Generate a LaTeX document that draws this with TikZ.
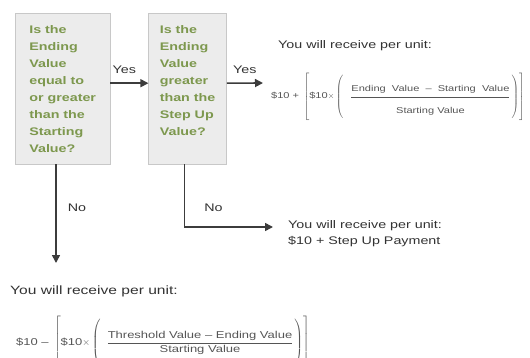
\documentclass[tikz,border=0pt]{standalone}
\usepackage{fontspec}
\usepackage{amsmath}
\setmainfont{Liberation Sans}[FakeStretch=1.3]
\usetikzlibrary{arrows.meta,positioning}

\definecolor{qgreen}{RGB}{125,152,78}
\definecolor{qfill}{RGB}{236,236,236}
\definecolor{qline}{RGB}{200,200,200}
\definecolor{wire}{RGB}{60,60,60}
\definecolor{txtgray}{RGB}{50,50,50}
\definecolor{mathgray}{RGB}{85,85,85}

\begin{document}
\begin{tikzpicture}[
        x=1pt, y=1pt,
        question/.style={draw=qline, fill=qfill, text=qgreen, align=left, inner xsep=0pt,
            font=\fontsize{11}{17}\selectfont\bfseries, minimum height=151pt,
            execute at begin node={\rule{0pt}{16pt}}},
        conn/.style={draw=wire, line width=1.6pt, -{Triangle[length=8pt, width=8pt]}},
        lbl/.style={inner sep=0pt, text=txtgray, font=\fontsize{11}{13}\selectfont},
        restext/.style={inner sep=0pt, text=txtgray, align=left, font=\fontsize{11}{16}\selectfont},
        formula/.style={inner sep=0pt, text=mathgray}
    ]
    \useasboundingbox (0,0) rectangle (530,-358);
    \clip (0,0) rectangle (530,-358);

    % Nodes
    \node (q1)[question, minimum width=95pt, anchor=north west] at (15,-13)
        {Is the\\ Ending\\ Value\\ equal to\\ or greater\\ than the\\ Starting\\ Value?};

    \node (q2)[question, minimum width=78pt, right=38pt of q1]
        {Is the\\ Ending\\ Value\\ greater\\ than the\\ Step Up\\ Value?\\ \mbox{}};

    \node (r1)[restext, anchor=base west] at (278,-48.5) {You will receive per unit:};
    \node (f1)[formula, anchor=west, font=\fontsize{8.5}{10}\selectfont] at (271,-98)
        {$\text{\$10 + }\left[\rule[-24pt]{0pt}{49pt}\text{\$10}{\times}\left(\rule[-21pt]{0pt}{43pt}\hspace{7pt}
        \dfrac{\text{Ending\ \ Value\ \ --\ \ Starting\ \ Value}\rule[-4pt]{0pt}{0pt}}{\rule{0pt}{15pt}\text{Starting Value}}\hspace{1pt}\right)\right]$};

    \node (r2)[restext, anchor=north west] at (288,-220)
        {You will receive per unit:\\ \$10 + Step Up Payment};

    \node (r3)[restext, anchor=base west, font=\fontsize{12}{14}\selectfont] at (10,-294)
        {You will receive per unit:};
    \node (f3)[formula, anchor=west, font=\fontsize{10}{12}\selectfont] at (16,-343)
        {$\text{\$10 -- }\left[\rule[-25pt]{0pt}{50pt}\text{\$10}{\times}\left(\rule[-22pt]{0pt}{44pt}\hspace{6pt}
        \dfrac{\text{Threshold Value -- Ending Value}}{\text{Starting Value}}\hspace{1pt}\right)\right]$};

    % arrow ends
    \coordinate (c1) at (263,-83);
    \coordinate (c2) at (273,-227);
    \coordinate (c3) at (56,-263);

    % Connectors
    \draw[conn] ([yshift=5.5pt]q1.east) -- ([yshift=5.5pt]q2.west)
        node[lbl, midway, above=9pt, xshift=-5pt] {Yes};
    \draw[conn] ([yshift=5.5pt]q2.east) -- (c1)
        node[lbl, midway, above=9pt] {Yes};
    \draw[conn] (q1.south -| c3) -- (c3)
        node[lbl, pos=0.44, right=11pt] {No};
    \draw[conn] ([xshift=-3pt]q2.south) |- (c2)
        node[lbl, pos=0.35, right=19pt] {No};

\end{tikzpicture}
\end{document}
